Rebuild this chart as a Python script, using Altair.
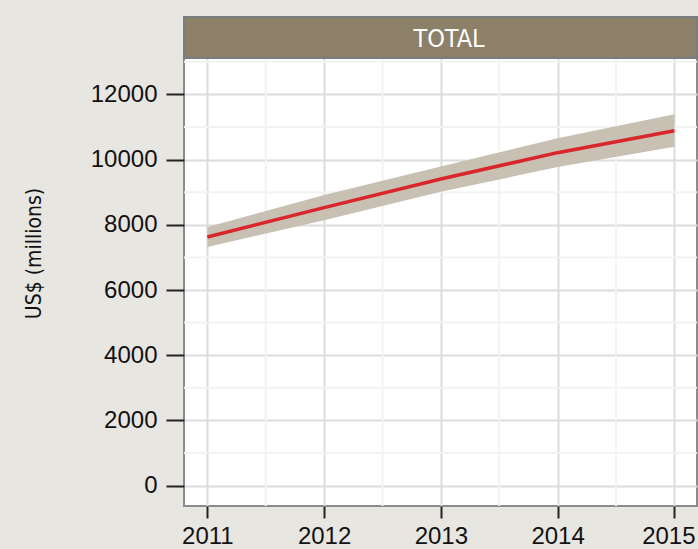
import altair as alt
import pandas as pd

years = [2011, 2012, 2013, 2014, 2015]
total = [7625, 8527, 9402, 10211, 10885]
lower = [7320, 8140, 9010, 9770, 10390]
upper = [7930, 8910, 9790, 10650, 11390]

y_ticks = [0, 2000, 4000, 6000, 8000, 10000, 12000]
y_minor = [1000, 3000, 5000, 7000, 9000, 11000, 13000]
x_minor = [2011.5, 2012.5, 2013.5, 2014.5]
panel_label = "TOTAL"

df = pd.DataFrame({"year": years, "total": total, "lower": lower, "upper": upper})

W, H = 513, 448
xs = alt.Scale(domain=[2010.80, 2015.194], nice=False, zero=False)
ys = alt.Scale(domain=[-622, 13113], nice=False, zero=False)

xaxis = alt.Axis(values=years, format="d", title=None, domain=False, tickSize=12,
                 tickColor="#222222", tickWidth=2, labelFontSize=24, labelPadding=6,
                 labelColor="#111111", labelFont="Liberation Sans",
                 labelOffset={"condition": {"test": "datum.value == 2015", "value": -6}, "value": 0},
                 grid=True, gridColor="#dcdcdc", gridWidth=2)
yaxis = alt.Axis(values=y_ticks, format="d", title="US$ (millions)", domain=False, tickSize=18,
                 tickColor="#222222", tickWidth=2, labelFontSize=24, labelPadding=9,
                 labelColor="#111111", labelFont="Liberation Sans",
                 grid=True, gridColor="#dcdcdc", gridWidth=2,
                 titleFont="DejaVu Sans Condensed", titleFontSize=21,
                 titleFontWeight="normal", titleColor="#111111",
                 titleX=-150, titleY=195, titleAngle=270, titleAlign="center",
                 titleBaseline="middle")

minor_y = alt.Chart(pd.DataFrame({"v": y_minor})).mark_rule(
    color="#f3f3f3", strokeWidth=2).encode(y=alt.Y("v:Q", scale=ys, axis=yaxis))
minor_x = alt.Chart(pd.DataFrame({"v": x_minor})).mark_rule(
    color="#f3f3f3", strokeWidth=2).encode(x=alt.X("v:Q", scale=xs, axis=xaxis))

band = alt.Chart(df).mark_area(color="#c7c0b3", opacity=1).encode(
    x=alt.X("year:Q", scale=xs, axis=xaxis),
    y=alt.Y("lower:Q", scale=ys, axis=yaxis),
    y2="upper:Q")
line = alt.Chart(df).mark_line(color="#d9262b", strokeWidth=3.5).encode(
    x=alt.X("year:Q", scale=xs, axis=xaxis),
    y=alt.Y("total:Q", scale=ys, axis=yaxis))

hdr = pd.DataFrame({"label": [panel_label]})
header = alt.Chart(hdr).mark_rect(fill="#8c8068", stroke="#7b7b82", strokeWidth=2).encode(
    x=alt.value(0), x2=alt.value(W), y=alt.value(-41), y2=alt.value(0))
header_text = alt.Chart(hdr).mark_text(color="white", font="DejaVu Sans Condensed",
                                       fontSize=25, align="center", baseline="middle").encode(
    x=alt.value(265), y=alt.value(-19), text="label:N")

chart = alt.layer(minor_y, minor_x, band, line, header, header_text).properties(
    width=W, height=H,
    autosize=alt.AutoSizeParams(type="none"),
    padding={"left": 184, "top": 58, "right": 1, "bottom": 43},
    background="#e8e6e1",
).configure_view(fill="white", stroke="#8a8a90", strokeWidth=2)

chart.save("out.html", embed_options={"renderer": "svg", "actions": False})
